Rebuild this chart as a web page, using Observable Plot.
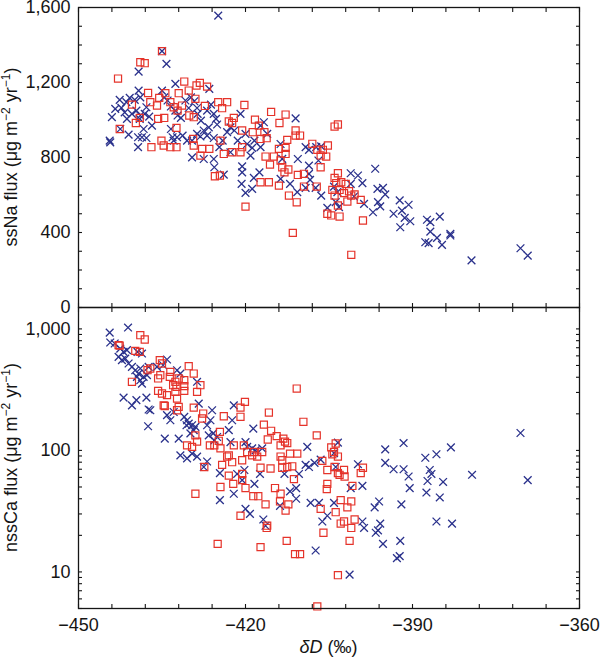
<!DOCTYPE html>
<html>
<head>
<meta charset="utf-8">
<script src="https://cdn.jsdelivr.net/npm/d3@7"></script>
<script src="https://cdn.jsdelivr.net/npm/@observablehq/plot@0.6"></script>
<style>
  body { margin: 0; background: #fff; }
  #chart { position: relative; width: 600px; height: 659px; }
  #chart svg { position: absolute; left: 0; top: 0; }
</style>
</head>
<body>
<div id="chart"></div>
<script>
// ---------- data: [δD (‰), flux (µg m−2 yr−1)] ----------
// ssNa flux, blue crosses
const naCross = [
  [-424.9,1557],[-434.2,1299],[-439.2,1258],[-435.0,1367],[-432.6,1193],[-426.5,1166],[-442.6,1107],[-439.2,1157],
  [-438.9,1121],[-439.9,1107],[-440.8,1118],[-441.4,1095],[-443.4,1059],[-442.3,1065],[-441.7,1041],[-444.0,1015],
  [-441.3,1006],[-440.4,1033],[-439.6,1050],[-438.9,1024],[-438.1,1033],[-437.8,1068],[-437.3,1018],[-436.8,970],
  [-438.3,952],[-439.0,1006],[-444.4,890],[-444.3,881],[-442.5,952],[-441.0,922],[-439.3,908],[-438.6,908],
  [-439.3,855],[-437.8,904],[-435.0,1157],[-434.6,1121],[-434.0,1104],[-433.4,1072],[-432.6,1050],[-432.2,1024],
  [-431.6,1011],[-430.8,1104],[-430.2,1064],[-429.8,1121],[-429.2,1100],[-428.7,1064],[-428.6,1033],[-428.0,997],
  [-426.9,1050],[-426.2,1082],[-425.7,1033],[-425.3,1006],[-425.1,976],[-426.6,961],[-427.5,944],[-428.1,912],
  [-428.7,926],[-429.6,890],[-430.5,890],[-431.3,917],[-432.3,908],[-432.9,890],[-433.4,952],[-433.1,908],
  [-426.9,917],[-425.7,904],[-424.7,855],[-424.1,890],[-423.3,935],[-422.7,961],[-422.0,944],[-421.4,890],
  [-420.9,1033],[-420.0,926],[-419.7,872],[-418.8,851],[-418.4,890],[-417.3,970],[-416.7,988],[-416.1,926],
  [-413.7,872],[-411.0,1009],[-429.6,801],[-427.5,792],[-425.7,792],[-422.7,828],[-419.1,810],[-417.3,855],
  [-410.6,792],[-425.6,748],[-423.9,709],[-420.6,753],[-420.6,721],[-420.7,659],[-420.0,611],[-418.8,633],
  [-418.5,691],[-417.5,721],[-413.7,686],[-413.4,793],[-412.0,659],[-410.7,615],
  [-409.2,855],[-408.6,841],[-407.3,855],[-406.4,859],[-408.6,757],[-408.6,713],[-408.4,681],[-409.2,638],
  [-407.4,638],[-406.4,597],[-406.9,784],[-405.3,531],[-404.1,645],[-403.5,615],[-403.8,562],[-403.2,535],
  [-401.1,716],[-399.8,704],[-399.0,663],[-401.1,659],[-400.5,592],[-398.7,553],[-396.7,740],[-396.3,633],
  [-395.3,638],[-394.9,603],[-396.2,562],[-395.8,539],[-397.1,508],[-393.4,500],[-392.3,571],[-391.9,517],
  [-390.7,548],[-391.4,478],[-392.2,428],[-390.4,460],[-387.4,468],[-386.8,455],[-385.1,485],[-386.8,405],
  [-385.6,371],[-387.7,348],[-387.1,343],[-384.7,334],[-383.2,393],[-383.2,384],[-379.4,251],[-370.6,316],
  [-369.3,277]
];
// ssNa flux, red squares
const naSquare = [
  [-442.9,1221],[-438.9,1308],[-438.1,1303],[-435.0,1367],[-437.5,1144],[-440.4,1082],[-439.7,984],[-439.0,1011],
  [-442.6,952],[-437.1,1095],[-435.9,1077],[-435.5,1118],[-434.4,1143],[-433.5,1095],[-432.9,1068],[-432.0,1143],
  [-432.2,1050],[-431.4,1077],[-431.0,1205],[-430.2,1157],[-430.1,1024],[-429.3,1015],[-429.0,1113],[-428.8,1184],
  [-428.2,1198],[-427.3,1075],[-426.9,1178],[-435.7,1006],[-434.6,1011],[-432.4,958],[-436.9,855],[-435.1,890],
  [-434.7,864],[-433.5,855],[-432.4,855],[-429.4,899],[-429.3,864],[-427.8,846],[-426.5,846],[-428.1,810],
  [-424.9,1095],[-424.2,1063],[-423.3,1095],[-424.5,890],[-423.0,992],[-422.1,1011],[-422.4,984],[-420.6,944],
  [-420.2,1080],[-423.9,819],[-422.4,828],[-420.9,828],[-420.6,855],[-418.7,935],[-418.3,1002],[-417.6,970],
  [-416.6,935],[-416.2,903],[-417.3,899],[-415.4,1043],[-413.9,984],[-412.8,1029],[-416.4,805],[-414.9,805],
  [-414.0,846],[-412.8,851],[-412.8,819],[-412.5,894],[-411.0,917],[-410.2,917],[-411.0,944],
  [-425.5,700],[-424.6,704],[-417.3,668],[-415.8,668],[-415.6,762],[-414.0,650],[-413.7,784],[-413.4,748],
  [-413.0,721],[-412.3,736],[-412.2,597],[-410.8,561],[-410.6,707],[-420.0,538],[-411.5,398],
  [-404.0,965],[-403.4,976],[-408.0,873],[-407.1,841],[-406.1,841],[-405.2,864],[-405.5,805],[-406.5,811],
  [-406.5,748],[-409.5,713],[-409.5,645],[-407.2,645],[-403.4,716],[-404.0,691],[-403.7,663],[-402.8,668],
  [-402.0,659],[-404.4,627],[-404.0,597],[-403.1,627],[-402.3,610],[-401.4,620],[-401.0,597],[-400.4,603],
  [-401.7,565],[-403.4,544],[-405.3,500],[-404.6,491],[-403.1,485],[-399.3,574],[-398.9,464],[-401.0,281]
];
// nssCa flux, blue crosses
const caCross = [
  [-444.4,933],[-441.1,1026],[-444.3,773],[-443.5,758],[-442.5,689],[-441.9,647],[-441.3,668],[-442.8,589],
  [-442.2,553],[-441.6,570],[-441.0,519],[-440.4,487],[-439.8,457],[-439.2,429],[-438.9,472],[-439.5,403],
  [-438.9,378],[-438.6,355],[-438.3,403],[-439.4,647],[-438.6,627],[-437.7,416],[-437.4,487],[-441.9,272],
  [-440.4,235],[-439.6,259],[-437.8,272],[-437.1,214],[-437.4,217],[-437.5,158],[-434.5,125],[-434.1,195],
  [-433.5,177],[-432.9,207],[-432.0,125],[-434.1,560],[-434.8,502],[-435.9,487],[-432.3,457],[-431.7,429],
  [-431.0,189],[-430.5,177],[-430.2,166],[-429.6,161],[-430.6,161],[-429.3,147],[-429.0,156],[-429.9,138],
  [-428.7,367],[-428.4,243],[-426.0,214],[-426.3,177],[-426.9,161],[-425.8,138],[-425.1,129],[-425.6,121],
  [-426.6,133],[-422.4,177],[-422.1,235],[-423.0,147],[-422.7,117],[-431.7,91],[-430.5,86],[-429.6,94],
  [-428.7,89],[-427.5,73],[-426.9,81],[-420.0,117],[-419.7,107],[-418.8,104],[-418.2,100],[-418.6,151],
  [-417.0,104],
  [-424.6,65],[-424.6,39],[-422.1,44],[-421.5,64],[-420.6,57],[-420.2,69],[-418.4,53],[-417.4,64],
  [-420.0,33],[-419.2,30],[-416.8,27],[-416.4,24],[-413.8,35],[-413.0,64],[-412.0,46],[-410.9,49],
  [-410.9,40],[-410.4,64],
  [-408.9,107],[-409.2,76],[-408.6,73],[-407.6,79],[-406.5,84],[-408.3,37],[-406.8,37],[-406.2,26],
  [-405.3,29],[-404.1,37],[-407.4,15],[-403.4,116],[-404.1,95],[-403.8,73],[-401.1,49],[-399.0,51],
  [-399.8,77],[-399.0,26],[-398.7,23],[-396.6,21],[-396.2,22],[-395.8,25],[-395.3,17],[-396.8,34],
  [-396.0,38],[-401.3,9.5],[-394.9,102],[-394.9,79],[-393.4,70],[-391.6,115],[-391.6,70],[-390.7,61],
  [-390.5,49],[-392.0,36],[-392.2,18],[-392.8,13],[-392.3,13.5],[-387.7,87],[-387.5,45],[-387.3,56],
  [-386.9,69],[-386.6,64],[-385.7,93],[-385.1,41],[-384.5,55],[-383.1,106],[-385.7,26],[-382.9,25],
  [-379.3,63],[-370.6,139],[-369.3,57]
];
// nssCa flux, red squares
const caSquare = [
  [-438.9,887],[-438.1,818],[-442.8,735],[-442.6,728],[-439.8,660],[-439.0,647],[-435.4,553],[-435.0,519],
  [-437.1,472],[-437.6,457],[-435.3,416],[-433.5,443],[-430.2,493],[-429.3,429],[-440.4,367],[-435.7,391],
  [-433.6,403],[-432.6,367],[-432.0,391],[-431.0,378],[-433.0,344],[-432.4,334],[-431.0,338],[-431.0,309],
  [-428.1,344],[-428.7,303],[-435.7,309],[-435.0,294],[-434.1,285],[-432.6,303],[-432.3,267],[-434.7,235],
  [-434.5,232],[-432.0,228],[-432.3,214],[-429.3,225],[-427.6,201],[-427.8,183],[-423.9,191],[-420.9,189],
  [-420.9,225],[-420.1,251],[-415.8,205],[-410.8,323],[-416.7,163],[-415.4,145],[-414.4,131],[-413.2,125],
  [-412.9,118],[-413.7,110],[-412.5,115],[-416.0,123],[-429.0,133],[-428.7,118],[-429.6,107],[-430.5,110],
  [-424.6,142],[-424.8,120],[-426.4,110],[-425.6,110],[-424.5,104],[-423.3,89],[-423.0,91],[-422.1,110],
  [-420.3,110],[-420.6,83],[-424.2,76],[-422.4,80],[-419.7,97],[-418.5,97],[-417.0,97],[-417.9,89],
  [-418.8,91],[-413.7,89],[-413.4,83],[-412.0,94],[-410.7,94],[-411.6,74],[-412.5,73],[-417.3,72],
  [-415.5,71],[-413.4,72],
  [-427.4,73],[-423.0,62],[-424.5,50],[-422.2,53],[-420.6,64],[-420.6,57],[-420.0,49],[-429.0,44],
  [-420.9,29],[-418.6,42],[-417.7,42],[-416.4,36],[-414.7,49],[-413.7,44],[-413.8,38],[-412.8,32],
  [-412.3,36],[-411.3,58],[-416.1,24],[-416.2,23],[-425.0,17],[-417.3,16],[-412.6,18],[-411.1,14],
  [-410.2,14],[-407.1,5.2],
  [-409.6,172],[-407.2,133],[-403.4,9.4],[-404.6,106],[-404.1,97],[-404.4,93],[-403.8,114],[-403.4,89],
  [-406.2,82],[-405.3,69],[-405.3,53],[-405.4,48],[-404.0,73],[-403.4,65],[-403.1,63],[-402.3,69],
  [-402.2,61],[-400.8,51],[-399.3,65],[-398.9,72],[-406.5,33],[-402.9,39],[-401.7,34],[-403.8,31],
  [-401.0,38],[-402.3,26],[-402.9,25],[-401.0,23],[-400.4,27],[-406.0,21],[-401.3,18]
];

// ---------- axes: ticks and labels ----------
const xDomain = [-450, -360];
const xMajor = [-450, -420, -390, -360];
const xMinor = d3.range(-450, -359, 6);
const naDomain = [0, 1600];
const naMajor = [0, 400, 800, 1200, 1600];
const naMinor = d3.range(0, 1601, 100);
const caDomain = [5, 1500];
const caMajor = [10, 100, 1000];
const caMinor = [5, 6, 7, 8, 9, 10, 20, 30, 40, 50, 60, 70, 80, 90, 100, 200, 300, 400, 500, 600, 700, 800, 900, 1000];

const INK = "#151515";
const BLUE = "#2a318c";
const RED = "#e5332a";
const FONT = "'Liberation Sans', Arial, Helvetica, sans-serif";
const STYLE = `background:transparent;font-family:${FONT};font-size:18px;color:${INK};overflow:visible;`;
const fmt = d3.format(",");
const TICK = -4;

function frameTicks(xTicks, yTicks) {
  return [
    Plot.axisX(xTicks, {anchor: "bottom", tickSize: TICK, fill: null, label: null, strokeWidth: 1.1}),
    Plot.axisX(xTicks, {anchor: "top", tickSize: TICK, fill: null, label: null, strokeWidth: 1.1}),
    Plot.axisY(yTicks, {anchor: "left", tickSize: TICK, fill: null, label: null, strokeWidth: 1.1}),
    Plot.axisY(yTicks, {anchor: "right", tickSize: TICK, fill: null, label: null, strokeWidth: 1.1})
  ];
}
function points(cross, square) {
  return [
    Plot.dot(cross, {x: d => d[0], y: d => d[1], symbol: "times", r: 3.6, stroke: BLUE, strokeWidth: 1.3}),
    Plot.dot(square, {x: d => d[0], y: d => d[1], symbol: "square", r: 4, fill: "none", stroke: RED, strokeWidth: 1.2})
  ];
}

const topChart = Plot.plot({
  width: 600, height: 312,
  marginLeft: 78, marginRight: 21, marginTop: 7, marginBottom: 5,
  style: STYLE,
  x: {domain: xDomain},
  y: {domain: naDomain},
  marks: [
    ...frameTicks(xMinor, naMinor),
    Plot.axisY(naMajor, {anchor: "left", tickSize: 0, tickPadding: 8, tickFormat: fmt, label: null}),
    ...points(naCross, naSquare),
    Plot.frame({stroke: INK, strokeWidth: 1.3})
  ]
});

const bottomChart = Plot.plot({
  width: 600, height: 659,
  marginLeft: 78, marginRight: 21, marginTop: 307, marginBottom: 51,
  style: STYLE,
  x: {domain: xDomain},
  y: {type: "log", domain: caDomain},
  marks: [
    ...frameTicks(xMinor, caMinor),
    Plot.axisY(caMajor, {anchor: "left", tickSize: 0, tickPadding: 8, tickFormat: fmt, label: null}),
    Plot.axisX(xMajor, {anchor: "bottom", tickSize: 0, tickPadding: 10, tickFormat: fmt, label: null}),
    ...points(caCross, caSquare),
    Plot.frame({stroke: INK, strokeWidth: 1.3})
  ]
});

const root = document.getElementById("chart");
root.append(topChart, bottomChart);

function yTitle(chart, name) {
  const [y0, y1] = chart.scale("y").range;
  const cy = (y0 + y1) / 2;
  const t = d3.select(chart).append("text")
    .attr("transform", `translate(17,${cy}) rotate(-90)`)
    .attr("text-anchor", "middle")
    .attr("fill", INK)
    .style("font-size", "18px");
  t.append("tspan").text(name + " flux (μg m");
  t.append("tspan").style("font-size", "12px").attr("dy", -7).text("−2");
  t.append("tspan").attr("dy", 7).text(" yr");
  t.append("tspan").style("font-size", "12px").attr("dy", -7).text("−1");
  t.append("tspan").attr("dy", 7).text(")");
}
yTitle(topChart, "ssNa");
yTitle(bottomChart, "nssCa");

{
  const [x0, x1] = bottomChart.scale("x").range;
  const t = d3.select(bottomChart).append("text")
    .attr("x", (x0 + x1) / 2).attr("y", 653)
    .attr("text-anchor", "middle")
    .attr("fill", INK)
    .style("font-size", "18px");
  t.append("tspan").style("font-style", "italic").text("δD");
  t.append("tspan").text(" (‰)");
}
</script>
</body>
</html>
